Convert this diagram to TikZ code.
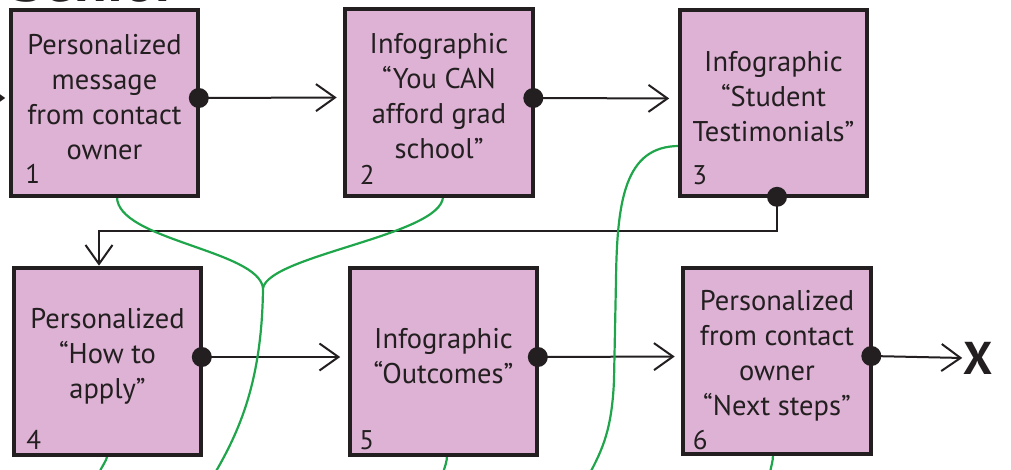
\documentclass[tikz,border=0pt]{standalone}
\usepackage{fontspec}
\setmainfont{PT Sans}
\usetikzlibrary{arrows.meta,calc}
\definecolor{boxfill}{HTML}{DDB2D4}
\definecolor{ink}{HTML}{231F20}
\definecolor{pathgreen}{HTML}{1FA64A}
\tikzset{
  stepbox/.style={draw=ink, line width=2.6pt, fill=boxfill, minimum width=186pt, minimum height=185pt, inner sep=0pt},
  boxtext/.style={text=ink, align=center, inner sep=0pt, font=\fontsize{28.5}{35}\selectfont},
  numlabel/.style={text=ink, anchor=base west, inner sep=0pt, font=\fontsize{27}{27}\selectfont},
  conn/.style={draw=ink, line width=2pt, -{Straight Barb[length=19pt,width=27pt]}},
  greenpath/.style={draw=pathgreen, line width=2.2pt},
  dot/.style={fill=ink}
}
\begin{document}
\begin{tikzpicture}[x=1pt,y=-1pt]
\useasboundingbox (0,0) rectangle (1011,470);
\clip (0,0) rectangle (1011,470);

% heading, mostly above the page
\node[text=ink, anchor=base west, inner sep=0pt, font=\fontsize{60}{60}\selectfont\bfseries] (head) at (12,1.5) {Senior};

% boxes
\node[stepbox] (b1) at (104.5,103) {};
\node[stepbox] (b2) at (439,102.5) {};
\node[stepbox] (b3) at (773.5,103) {};
\node[stepbox] (b4) at (107.5,361.5) {};
\node[stepbox] (b5) at (443.5,361.5) {};
\node[stepbox] (b6) at (777,361) {};

\node[boxtext] (t1) at ($(b1.center)+(0,-6)$) {Personalized\\message\\from contact\\owner};
\node[boxtext] (t2) at ($(b2.center)+(0,-6)$) {Infographic\\“You CAN\\afford grad\\school”};
\node[boxtext] (t3) at ($(b3.center)+(0,-6)$) {Infographic\\“Student\\Testimonials”};
\node[boxtext] (t4) at ($(b4.center)+(0,-5)$) {Personalized\\“How to\\apply”};
\node[boxtext] (t5) at ($(b5.center)+(0,-5)$) {Infographic\\“Outcomes”};
\node[boxtext] (t6) at ($(b6.center)+(0,-5)$) {Personalized\\from contact\\owner\\“Next steps”};

\node[numlabel] (n1) at ($(b1.south west)+(15,-13)$) {1};
\node[numlabel] (n2) at ($(b2.south west)+(15,-12)$) {2};
\node[numlabel] (n3) at ($(b3.south west)+(13,-12)$) {3};
\node[numlabel] (n4) at ($(b4.south west)+(13,-6)$) {4};
\node[numlabel] (n5) at ($(b5.south west)+(10,-6)$) {5};
\node[numlabel] (n6) at ($(b6.south west)+(10,-5)$) {6};

\node[text=ink, inner sep=0pt, font=\fontsize{46}{46}\selectfont\bfseries] (xend) at (978,358) {X};

% black connectors
\coordinate (inlet) at (-60,98);
\draw[conn, shorten >=5pt] (inlet) -- ([yshift=5pt]b1.west);
\draw[conn, shorten >=8pt] ([yshift=5pt]b1.east) -- ([yshift=5pt]b2.west);
\draw[conn, shorten >=10pt] ([yshift=4.5pt]b2.east) -- ([yshift=4.5pt]b3.west);
\draw[conn, shorten >=2pt] ([xshift=3.5pt]b3.south) -- ++(0,34) -| ([xshift=-8.5pt]b4.north);
\draw[conn, shorten >=9pt] ([yshift=4.5pt]b4.east) -- ([yshift=4.5pt]b5.west);
\draw[conn, shorten >=8pt] ([yshift=4.5pt]b5.east) -- ([yshift=4.5pt]b6.west);
\draw[conn, shorten >=1pt] ([yshift=5pt]b6.east) -- (xend.west);

% green paths
\coordinate (join) at (263,288);
\coordinate (exitA) at (215,473);
\coordinate (exitD) at (590,473);
\coordinate (exit4) at (99,473);
\coordinate (exit5) at (443,473);
\coordinate (exit6) at (770,473);
\draw[greenpath] ([xshift=12.5pt]b1.south) .. controls (117,240) and (258,250) .. (join);
\draw[greenpath] ([xshift=4pt]b2.south) .. controls (443,235) and (270,255) .. (join);
\draw[greenpath] (join) .. controls (262,380) and (240,430) .. (exitA);
\draw[greenpath] ([yshift=-43pt]b3.west) .. controls (625,146) and (617,200) .. (616,280)
  -- (614,380) .. controls (612,430) and (602,450) .. (exitD);
\draw[greenpath] (b4.south) .. controls (106,462) and (102,466) .. (exit4);
\draw[greenpath] ([xshift=3.5pt]b5.south) .. controls (447,462) and (445,466) .. (exit5);
\draw[greenpath] ([xshift=-4pt]b6.south) .. controls (773,462) and (771,466) .. (exit6);

% boxes drawn again over the path ends
\foreach \b in {b1,b2,b3,b4,b5,b6}{
  \draw[draw=ink, line width=2.6pt] (\b.south west) rectangle (\b.north east);
}

% connector dots
\fill[dot] ([yshift=5pt]b1.east) circle[radius=10pt];
\fill[dot] ([yshift=4.5pt]b2.east) circle[radius=10pt];
\fill[dot] ([xshift=3.5pt]b3.south) circle[radius=10pt];
\fill[dot] ([yshift=4.5pt]b4.east) circle[radius=10pt];
\fill[dot] ([yshift=4.5pt]b5.east) circle[radius=10pt];
\fill[dot] ([yshift=5pt]b6.east) circle[radius=10pt];
\end{tikzpicture}
\end{document}
